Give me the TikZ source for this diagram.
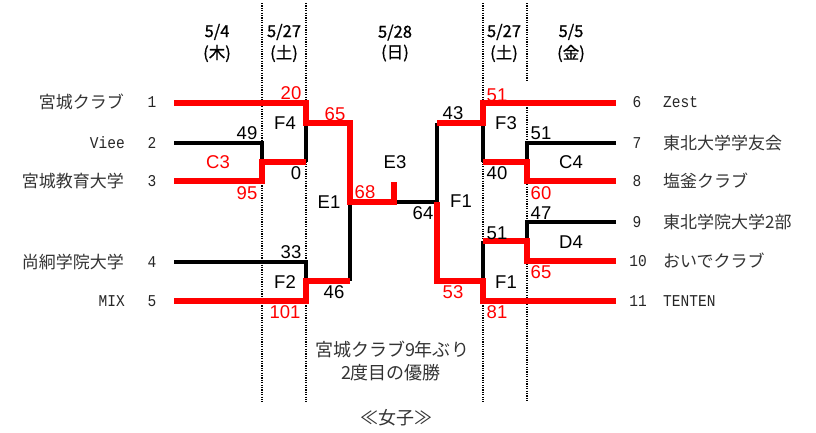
\documentclass[tikz,border=0pt]{standalone}
\usepackage{fontspec}
\newfontfamily\jpf{Noto Sans CJK JP}
\newfontfamily\jpbf[FakeBold=0.8]{Noto Sans CJK JP}
\newfontfamily\scoref{Liberation Sans}
\newfontfamily\monof[FakeStretch=0.88]{Liberation Mono}
\tikzset{
  score/.style={font=\scoref\fontsize{18.5}{18.5}\selectfont, inner sep=0pt, text=black},
  rscore/.style={score, text=red},
  jname/.style={font=\jpf\fontsize{17}{17}\selectfont, inner sep=0pt, text=black!80},
  mname/.style={font=\monof\fontsize{16.5}{16.5}\selectfont, inner sep=0pt, text=black!85},
  datef/.style={font=\jpbf\fontsize{16.5}{16.5}\selectfont, inner sep=0pt, align=center, text=black},
  note/.style={font=\jpf\fontsize{18}{18}\selectfont, inner sep=0pt, text=black!80},
  win/.style={draw=red, line width=5.5pt},
  lose/.style={draw=black, line width=4pt},
  sepline/.style={draw=black, line width=1.6pt, dash pattern=on 1.2pt off 1.2pt}
}
\begin{document}
\begin{tikzpicture}[x=1pt,y=-1pt]
\useasboundingbox (0,0) rectangle (816,432);

% ---- separators ----
\coordinate (s1t) at (262,3);   \coordinate (s1b) at (262,402);
\coordinate (s2t) at (306,3);   \coordinate (s2b) at (306,402);
\coordinate (s3t) at (483,3);   \coordinate (s3b) at (483,402);
\coordinate (s4t) at (527,3);   \coordinate (s4m) at (527,81);
\coordinate (s4n) at (527,105); \coordinate (s4b) at (527,402);
\draw[sepline] (s1t) -- (s1b);
\draw[sepline] (s2t) -- (s2b);
\draw[sepline] (s3t) -- (s3b);
\draw[sepline] (s4t) -- (s4m);
\draw[sepline] (s4n) -- (s4b);

% ---- dates ----
\node[datef] (d1) at (217,43) {5/4\\[4pt](木)};
\node[datef] (d2) at (284,43) {5/27\\[4pt](土)};
\node[datef] (d3) at (395,43) {5/28\\[4pt](日)};
\node[datef] (d4) at (504,43) {5/27\\[4pt](土)};
\node[datef] (d5) at (571,43) {5/5\\[4pt](金)};

% ---- left teams ----
\node[jname, anchor=east] (t1) at (124,102) {宮城クラブ};
\node[mname, anchor=east] (t2) at (125,143) {Viee};
\node[jname, anchor=east] (t3) at (124,181) {宮城教育大学};
\node[jname, anchor=east] (t4) at (124,262) {尚絅学院大学};
\node[mname, anchor=east] (t5) at (125,301) {MIX};
\node[mname] (n1) at (152,102) {1};
\node[mname] (n2) at (152,143) {2};
\node[mname] (n3) at (152,181) {3};
\node[mname] (n4) at (152,262) {4};
\node[mname] (n5) at (152,301) {5};

% ---- right teams ----
\node[mname] (n6) at (637,102) {6};
\node[mname] (n7) at (637,143) {7};
\node[mname] (n8) at (637,181) {8};
\node[mname] (n9) at (637,222) {9};
\node[mname] (n10) at (638,261) {10};
\node[mname] (n11) at (638,301) {11};
\node[mname, anchor=west] (t6) at (663,102) {Zest};
\node[jname, anchor=west] (t7) at (663,143) {東北大学学友会};
\node[jname, anchor=west] (t8) at (663,181) {塩釜クラブ};
\node[jname, anchor=west] (t9) at (663,222) {東北学院大学2部};
\node[jname, anchor=west] (t10) at (663,261) {おいでクラブ};
\node[mname, anchor=west] (t11) at (663,301) {TENTEN};

% ---- bracket coordinates (left) ----
\coordinate (a1) at (174,103); \coordinate (a1x) at (306,103);
\coordinate (a2) at (174,143); \coordinate (a2x) at (262,143);
\coordinate (a3) at (174,181); \coordinate (a3x) at (262,181);
\coordinate (c3) at (262,162); \coordinate (c3o) at (306,162);
\coordinate (f4) at (306,123); \coordinate (f4o) at (350,123);
\coordinate (a4) at (174,262); \coordinate (a4x) at (306,262);
\coordinate (a5) at (174,301); \coordinate (a5x) at (306,301);
\coordinate (f2) at (306,281); \coordinate (f2o) at (350,281);
\coordinate (e1) at (350,202); \coordinate (fin) at (394,202);
\coordinate (top) at (394,182);
% ---- bracket coordinates (right) ----
\coordinate (b6) at (616,103); \coordinate (b6x) at (483,103);
\coordinate (b7) at (616,143); \coordinate (b7x) at (527,143);
\coordinate (b8) at (616,181); \coordinate (b8x) at (527,181);
\coordinate (c4) at (527,162); \coordinate (c4o) at (483,162);
\coordinate (f3) at (483,123); \coordinate (f3o) at (437,123);
\coordinate (b9) at (616,222); \coordinate (b9x) at (527,222);
\coordinate (b10) at (616,261); \coordinate (b10x) at (527,261);
\coordinate (d4j) at (527,241); \coordinate (d4o) at (483,241);
\coordinate (b11) at (616,301); \coordinate (b11x) at (483,301);
\coordinate (f1r) at (483,281); \coordinate (f1ro) at (437,281);
\coordinate (f1c) at (437,202);

% ---- losing lines ----
\draw[lose] (a2) -- (a2x) -- (c3);
\draw[lose] (c3o) -- (f4);
\draw[lose] (a4) -- (a4x) -- (f2);
\draw[lose] (f2o) -- (e1);
\draw[lose] (b7) -- (b7x) -- (c4);
\draw[lose] (c4o) -- (f3);
\draw[lose] (b9) -- (b9x) -- (d4j);
\draw[lose] (d4o) -- (f1r);
\draw[lose] (f3o) -- (f1c);
\draw[lose] (f1c) -- (fin);

% ---- winning lines ----
\draw[win] (a1) -- (a1x) -- (f4) -- (f4o) -- (e1) -- (fin) -- (top);
\draw[win] (a3) -- (a3x) -- (c3) -- (c3o);
\draw[win] (a5) -- (a5x) -- (f2) -- (f2o);
\draw[win] (b6) -- (b6x) -- (f3) -- (f3o);
\draw[win] (b8) -- (b8x) -- (c4) -- (c4o);
\draw[win] (b10) -- (b10x) -- (d4j) -- (d4o);
\draw[win] (b11) -- (b11x) -- (f1r) -- (f1ro) -- (f1c);

% ---- left scores ----
\node[rscore] (s20) at (291,93) {20};
\node[score] (lf4) at (285,123) {F4};
\node[rscore] (s65) at (335,114) {65};
\node[score] (s49) at (247,133) {49};
\node[rscore] (lc3) at (218,162) {C3};
\node[score] (s0) at (296,173) {0};
\node[rscore] (s95) at (247,193) {95};
\node[score] (le1) at (329,202) {E1};
\node[rscore] (s68) at (365,192) {68};
\node[score] (le3) at (395,162) {E3};
\node[score] (s33) at (291,252) {33};
\node[score] (lf2) at (285,282) {F2};
\node[rscore] (s101) at (285,312) {101};
\node[score] (s46) at (334,292) {46};
\node[score] (s64) at (423,213) {64};
% ---- right scores ----
\node[score] (s43) at (453,113) {43};
\node[rscore] (s51a) at (497,95) {51};
\node[score] (lf3) at (506,123) {F3};
\node[score] (s51b) at (541,133) {51};
\node[score] (lc4) at (571,162) {C4};
\node[score] (s40) at (497,173) {40};
\node[rscore] (s60) at (541,193) {60};
\node[score] (lf1c) at (461,201) {F1};
\node[score] (s47) at (541,213) {47};
\node[score] (s51c) at (497,233) {51};
\node[score] (ld4) at (571,242) {D4};
\node[rscore] (s65b) at (541,272) {65};
\node[score] (lf1r) at (506,282) {F1};
\node[rscore] (s53) at (453,292) {53};
\node[rscore] (s81) at (497,312) {81};

% ---- notes ----
\node[note] (m1) at (392,350) {宮城クラブ9年ぶり};
\node[note] (m2) at (391,373) {2度目の優勝};
\node[note] (m3) at (396,418) {≪女子≫};
\end{tikzpicture}
\end{document}
